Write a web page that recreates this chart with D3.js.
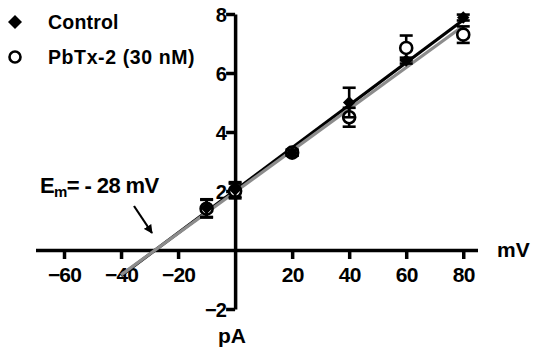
<!DOCTYPE html>
<html><head><meta charset="utf-8">
<script src="https://cdn.jsdelivr.net/npm/d3@7"></script>
<style>
body{margin:0;background:#fff;}
text{font-family:"Liberation Sans",Arial,sans-serif;font-weight:bold;}
</style></head>
<body><svg id="c" width="538" height="350"></svg>
<script>
// data
const voltages = [-10, 0, 20, 40, 60, 80];
const controlMean = [1.42, 2.05, 3.3, 5.0, 6.42, 7.88];
const controlErr  = [0.3, 0.25, 0.1, 0.5, 0.1, 0.1];
const pbtxMean    = [1.4, 2.0, 3.3, 4.5, 6.85, 7.3];
const pbtxErr     = [0.3, 0.25, 0.1, 0.32, 0.42, 0.28];
const fitRange = [-40, 80];
const controlFit = {slope: 0.0722, intercept: 2.02};
const pbtxFit    = {slope: 0.0703, intercept: 1.97};
const xTicks = [-60, -40, -20, 20, 40, 60, 80];
const yTicks = [-2, 2, 4, 6, 8];
const seriesNames = ["Control", "PbTx-2 (30 nM)"];

const svg = d3.select("#c");
const x = d3.scaleLinear().domain([-70, 85]).range([35.5, 477.5]);
const y = d3.scaleLinear().domain([-2, 8]).range([309, 14]);

// axes
const xAxis = svg.append("g").attr("transform", `translate(0,${y(0)})`)
  .call(d3.axisBottom(x).tickValues(xTicks).tickSize(9).tickSizeOuter(0).tickPadding(8));
const yAxis = svg.append("g").attr("transform", `translate(${x(0)},0)`)
  .call(d3.axisLeft(y).tickValues(yTicks).tickSize(9).tickSizeOuter(0).tickPadding(0));
[xAxis, yAxis].forEach(g => {
  g.select(".domain").attr("stroke", "#000").attr("stroke-width", 3.5);
  g.selectAll(".tick line").attr("stroke", "#000").attr("stroke-width", 3.5);
  g.selectAll("text").attr("fill", "#000").attr("font-family", "Liberation Sans, Arial, sans-serif")
    .attr("font-weight", "bold").attr("letter-spacing", "-0.8px");
});
xAxis.selectAll("text").attr("font-size", 21);
yAxis.selectAll("text").attr("font-size", 20).attr("dy", "0.36em");

// axis titles
svg.append("text").attr("x", 497).attr("y", 257).attr("font-size", 21).text("mV");
svg.append("text").attr("x", 218).attr("y", 343).attr("font-size", 21).text("pA");

// fit lines
function fitLine(f, color) {
  svg.append("line")
    .attr("x1", x(fitRange[0])).attr("y1", y(f.slope * fitRange[0] + f.intercept))
    .attr("x2", x(fitRange[1])).attr("y2", y(f.slope * fitRange[1] + f.intercept))
    .attr("stroke", color).attr("stroke-width", 3.2);
}
fitLine(controlFit, "#000");
fitLine(pbtxFit, "#8c8c8c");

// error bars
function errBars(means, errs) {
  const g = svg.append("g").attr("stroke", "#000").attr("stroke-width", 2.6);
  voltages.forEach((v, i) => {
    const cx = x(v), y1 = y(means[i] + errs[i]), y2 = y(means[i] - errs[i]);
    g.append("line").attr("x1", cx).attr("x2", cx).attr("y1", y1).attr("y2", y2);
    g.append("line").attr("x1", cx - 6.5).attr("x2", cx + 6.5).attr("y1", y1).attr("y2", y1);
    g.append("line").attr("x1", cx - 6.5).attr("x2", cx + 6.5).attr("y1", y2).attr("y2", y2);
  });
}
errBars(pbtxMean, pbtxErr);
svg.append("g").selectAll("circle").data(voltages).join("circle")
  .attr("cx", v => x(v)).attr("cy", (v, i) => y(pbtxMean[i])).attr("r", 6)
  .attr("fill", "#fff").attr("stroke", "#000").attr("stroke-width", 2.6);
errBars(controlMean, controlErr);
const diamond = d3.symbol().type(d3.symbolDiamond2).size(100);
svg.append("g").selectAll("path").data(voltages).join("path")
  .attr("d", diamond).attr("transform", (v, i) => `translate(${x(v)},${y(controlMean[i])})`)
  .attr("fill", "#000");

// legend
svg.append("path").attr("d", d3.symbol().type(d3.symbolDiamond2).size(125)).attr("transform", "translate(15,22)").attr("fill", "#000");
svg.append("circle").attr("cx", 15).attr("cy", 57).attr("r", 5.5)
  .attr("fill", "#fff").attr("stroke", "#000").attr("stroke-width", 2.6);
svg.append("text").attr("x", 48).attr("y", 29).attr("font-size", 19.5).attr("letter-spacing", "0.2px").text(seriesNames[0]);
svg.append("text").attr("x", 48).attr("y", 64).attr("font-size", 19.5).attr("letter-spacing", "0.6px").text(seriesNames[1]);

// annotation
const ann = svg.append("text").attr("x", 40).attr("y", 193).attr("font-size", 22).attr("letter-spacing", "-0.6px");
ann.append("tspan").text("E");
ann.append("tspan").attr("font-size", 15).attr("dy", 4).text("m");
ann.append("tspan").attr("dy", -4).text("= - 28 mV");
svg.append("defs").append("marker").attr("id", "ah").attr("viewBox", "0 0 10 10")
  .attr("refX", 9).attr("refY", 5).attr("markerWidth", 4).attr("markerHeight", 4)
  .attr("orient", "auto").append("path").attr("d", "M0,0L10,5L0,10z").attr("fill", "#000");
svg.append("line").attr("x1", 134).attr("y1", 206).attr("x2", 152).attr("y2", 233)
  .attr("stroke", "#000").attr("stroke-width", 2.2).attr("marker-end", "url(#ah)");
</script></body></html>
